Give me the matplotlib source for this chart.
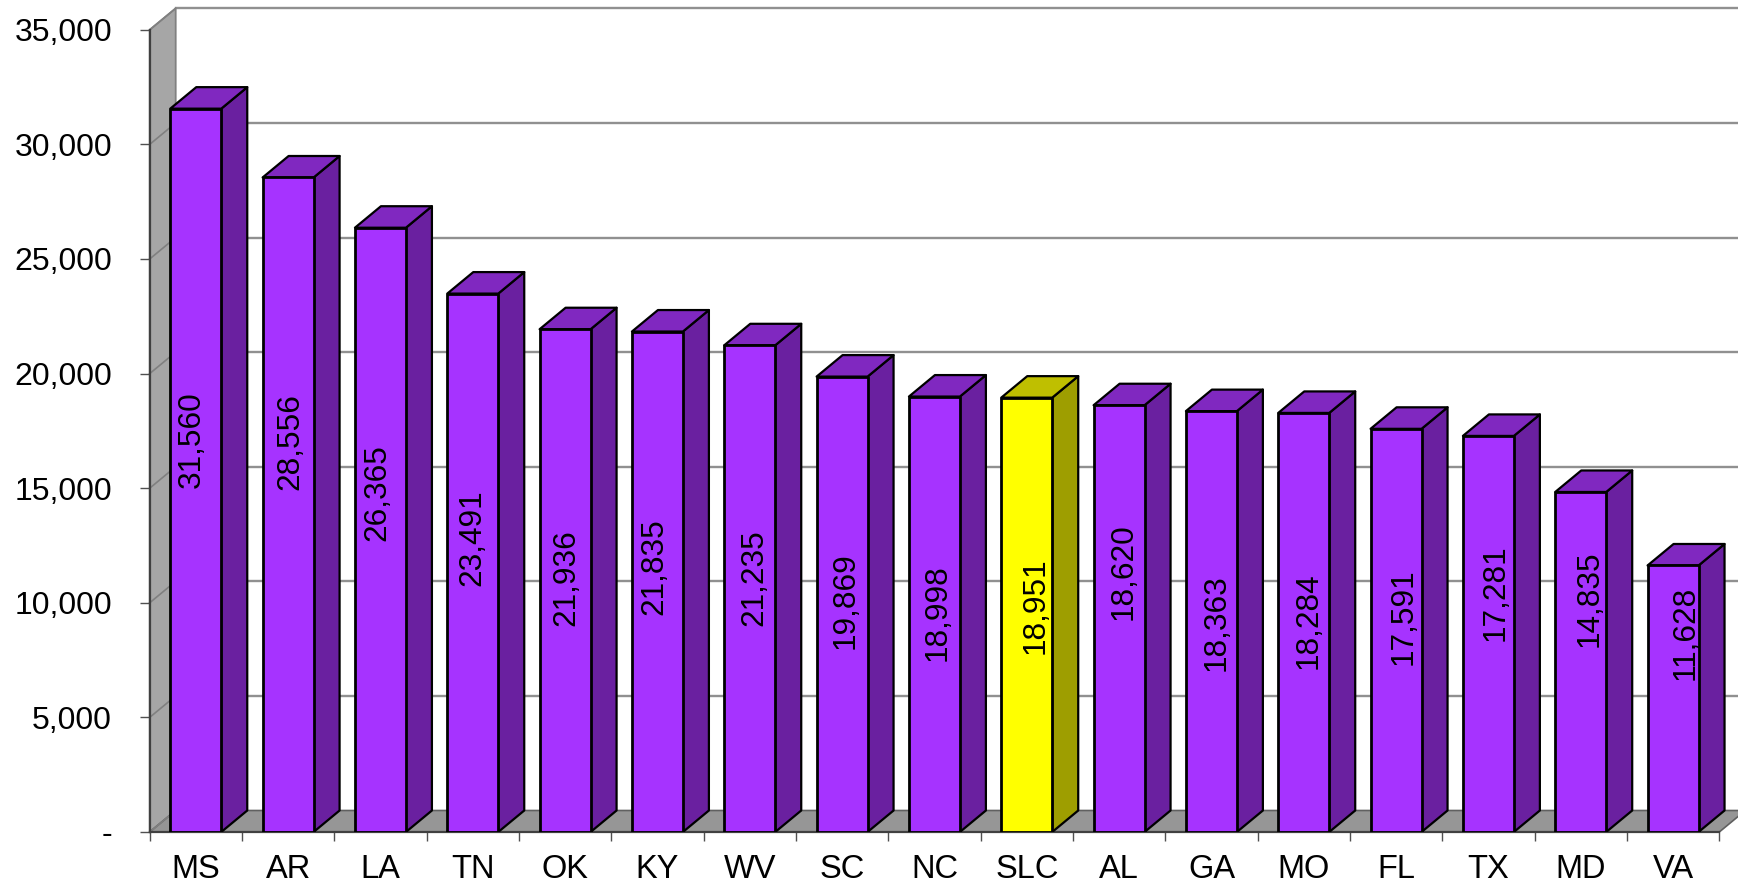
import numpy as np
import matplotlib
matplotlib.use("Agg")
import matplotlib.pyplot as plt
from matplotlib.patches import Polygon

## Data
states = ['MS', 'AR', 'LA', 'TN', 'OK', 'KY', 'WV', 'SC', 'NC', 'SLC', 'AL', 'GA', 'MO', 'FL', 'TX', 'MD', 'VA']
values = [31560, 28556, 26365, 23491, 21936, 21835, 21235, 19869, 18998, 18951, 18620, 18363, 18284, 17591, 17281, 14835, 11628]
y_ticks = [0, 5000, 10000, 15000, 20000, 25000, 30000, 35000]
y_tick_labels = ['-', '5,000', '10,000', '15,000', '20,000', '25,000', '30,000', '35,000']

## Where each rotated value label sits, in axis units (they wander in the original)
label_x = [0.461, 1.523, 2.464, 3.500, 4.514, 5.466, 6.549, 7.538, 8.533, 9.595, 10.547, 11.556, 12.553, 13.578, 14.572, 15.596, 16.631]
label_y = [17110, 17020, 14800, 12850, 11100, 11580, 11100, 10100, 9590, 9870, 11340, 9130, 9210, 9390, 10420, 10190, 8670]

## Fake 3D depth and bar placement, in axis units
depth_x = 0.2816
depth_y = 938
bar_left = 0.223
bar_width = 0.552

purple = ('#A633FF', '#6A20A0', '#8028C0')
yellow = ('#FFFF00', '#9E9E00', '#BFBF00')
grid_color = '#909090'

plt.rcParams['font.family'] = ['Liberation Sans', 'DejaVu Sans']

fig = plt.figure(figsize=(17.38, 8.86), dpi=100)
ax = fig.add_axes([149.7 / 1738, 1 - 832 / 886, 1 - 149.7 / 1738, 824 / 886])
ax.set_xlim(0, 1588.3 / 92.33)
ax.set_ylim(0, 824 / 114.6 * 5000)
n = len(states)

## Walls and floor
ax.add_patch(Polygon([(0, 0), (depth_x, depth_y), (depth_x, 35000 + depth_y), (0, 35000)],
                     facecolor='#A6A6A6', edgecolor='#808080', linewidth=1.3, clip_on=False, zorder=1))
ax.add_patch(Polygon([(0, 0), (n, 0), (n + depth_x, depth_y), (depth_x, depth_y)],
                     facecolor='#969696', edgecolor='#606060', linewidth=1.2, clip_on=False, zorder=1))

## Gridlines, running along the back wall and down the side wall
for v in y_ticks:
    if v > 0:
        ax.plot([depth_x, n + depth_x], [v + depth_y, v + depth_y], color=grid_color, linewidth=1.7, clip_on=False, zorder=1.5)
    ax.plot([0, depth_x], [v, v + depth_y], color='#808080', linewidth=1.2, clip_on=False, zorder=1.5)

## Bars
for i, v in enumerate(values):
    front, side, top = yellow if states[i] == 'SLC' else purple
    x0 = i + bar_left
    x1 = x0 + bar_width
    ax.add_patch(Polygon([(x1, 0), (x1 + depth_x, depth_y), (x1 + depth_x, v + depth_y), (x1, v)],
                         facecolor=side, edgecolor='black', linewidth=1.6, joinstyle='round', zorder=3))
    ax.add_patch(Polygon([(x0, v), (x0 + depth_x, v + depth_y), (x1 + depth_x, v + depth_y), (x1, v)],
                         facecolor=top, edgecolor='black', linewidth=1.6, joinstyle='round', zorder=3))
    ax.add_patch(Polygon([(x0, 0), (x1, 0), (x1, v), (x0, v)],
                         facecolor=front, edgecolor='black', linewidth=2.0, joinstyle='round', zorder=3.1))
    ax.text(label_x[i], label_y[i], format(v, ','), rotation=90, ha='center', va='center',
            fontsize=22.8, color='black', zorder=5)

## Axes
for name in ['top', 'right']:
    ax.spines[name].set_visible(False)
ax.patch.set_visible(False)
ax.spines['left'].set_bounds(0, 35000)
ax.spines['bottom'].set_bounds(0, n)
ax.spines['left'].set_color('#404040')
ax.spines['bottom'].set_color('#404040')
ax.spines['left'].set_linewidth(1.6)
ax.spines['bottom'].set_linewidth(1.6)
ax.spines['left'].set_zorder(2)
ax.spines['bottom'].set_zorder(2)

ax.set_yticks(y_ticks)
ax.set_yticklabels(y_tick_labels)
ax.tick_params(axis='y', direction='out', length=7.2, width=1.0, color='#505050', pad=20, labelsize=23)
ax.set_xticks(np.arange(n + 1))
ax.set_xticklabels([])
ax.set_xticks(np.arange(n) + 0.5, minor=True)
ax.set_xticklabels(states, minor=True)
ax.tick_params(axis='x', which='major', direction='out', length=6.2, width=1.0, color='#505050')
ax.tick_params(axis='x', which='minor', length=0, pad=16, labelsize=23.5)

fig.savefig('out.png', dpi=100)
